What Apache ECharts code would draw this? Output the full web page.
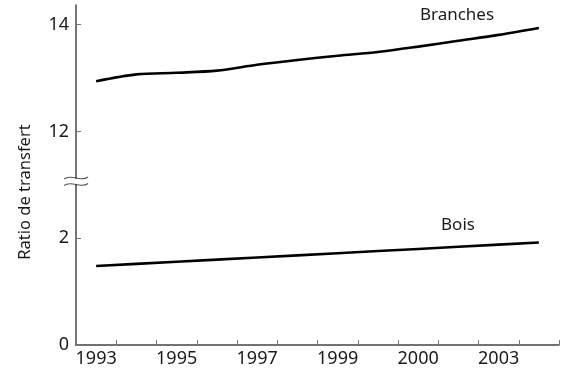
<!DOCTYPE html>
<html>
<head>
<meta charset="utf-8">
<script src="https://cdn.jsdelivr.net/npm/echarts@6/dist/echarts.min.js"></script>
<style>html,body{margin:0;padding:0;background:#fff;}#c{width:562px;height:371px;}</style>
</head>
<body>
<div id="c"></div>
<script>
// slots along the x axis (one per year step)
var xSlots = ['1993','1994','1995','1996','1997','1998','1999','2000a','2000','2001','2003','2004'];
// printed tick labels (as in the source figure)
var xTickLabels = ['1993','','1995','','1997','','1999','','2000','','2003',''];
var yTickValues = [0, 2, 12, 14];
var branches = [12.94, 13.07, 13.10, 13.14, 13.25, 13.34, 13.42, 13.49, 13.59, 13.70, 13.81, 13.94];
var bois = [1.48, 1.52, 1.56, 1.60, 1.64, 1.68, 1.72, 1.76, 1.80, 1.84, 1.88, 1.92];
var seriesNames = ['Branches', 'Bois'];
var yName = 'Ratio de transfert';

var FONT = 'Noto Sans';
var chart = echarts.init(document.getElementById('c'), null, {renderer: 'canvas'});

function wave(y) {
  return {
    type: 'bezierCurve', z: 100,
    shape: {x1: 64, y1: y + 1, cpx1: 72, cpy1: y - 5, cpx2: 80, cpy2: y + 5, x2: 88, y2: y - 1},
    style: {stroke: '#555', lineWidth: 1.1, fill: null}
  };
}

chart.setOption({
  animation: false,
  grid: {left: 76, right: 3, top: 5, bottom: 26},
  xAxis: {
    type: 'category',
    data: xSlots,
    boundaryGap: true,
    axisLine: {lineStyle: {color: '#444', width: 1.5}},
    axisTick: {show: true, inside: true, length: 5, alignWithLabel: false, interval: 0, lineStyle: {color: '#777', width: 1}},
    axisLabel: {
      interval: 0, margin: 5, color: '#1a1a1a', fontFamily: FONT, fontSize: 18,
      formatter: function (v, i) { return xTickLabels[i]; }
    },
    splitLine: {show: false}
  },
  yAxis: {
    type: 'value',
    min: 0, max: 14.37,
    breaks: [{start: 3, end: 11, gap: 0}],
    breakArea: {show: false},
    axisLine: {show: true, lineStyle: {color: '#444', width: 1.5}},
    axisTick: {show: true, inside: true, length: 5, customValues: yTickValues, lineStyle: {color: '#777', width: 1}},
    axisLabel: {
      customValues: yTickValues, margin: 7, color: '#1a1a1a', fontFamily: FONT, fontSize: 18,
      formatter: function (v) { return String(Math.round(v)); }
    },
    splitLine: {show: false}
  },
  series: [
    {name: seriesNames[0], type: 'line', data: branches, smooth: 0.3, symbol: 'none',
     lineStyle: {color: '#000', width: 2.6}},
    {name: seriesNames[1], type: 'line', data: bois, smooth: false, symbol: 'none',
     lineStyle: {color: '#000', width: 2.6}}
  ],
  graphic: [
    {type: 'text', x: 457, y: 15, z: 100,
     style: {text: seriesNames[0], font: '17px "' + FONT + '"', fill: '#1a1a1a', align: 'center', verticalAlign: 'middle'}},
    {type: 'text', x: 458, y: 225, z: 100,
     style: {text: seriesNames[1], font: '17px "' + FONT + '"', fill: '#1a1a1a', align: 'center', verticalAlign: 'middle'}},
    {type: 'text', x: 25, y: 192, rotation: Math.PI / 2, z: 100,
     style: {text: yName, font: '16.5px "' + FONT + '"', fill: '#1a1a1a', align: 'center', verticalAlign: 'middle'}},
    {type: 'rect', z: 99, shape: {x: 72, y: 179, width: 8, height: 5}, style: {fill: '#fff'}},
    wave(178),
    wave(184.5)
  ]
});
</script>
</body>
</html>
